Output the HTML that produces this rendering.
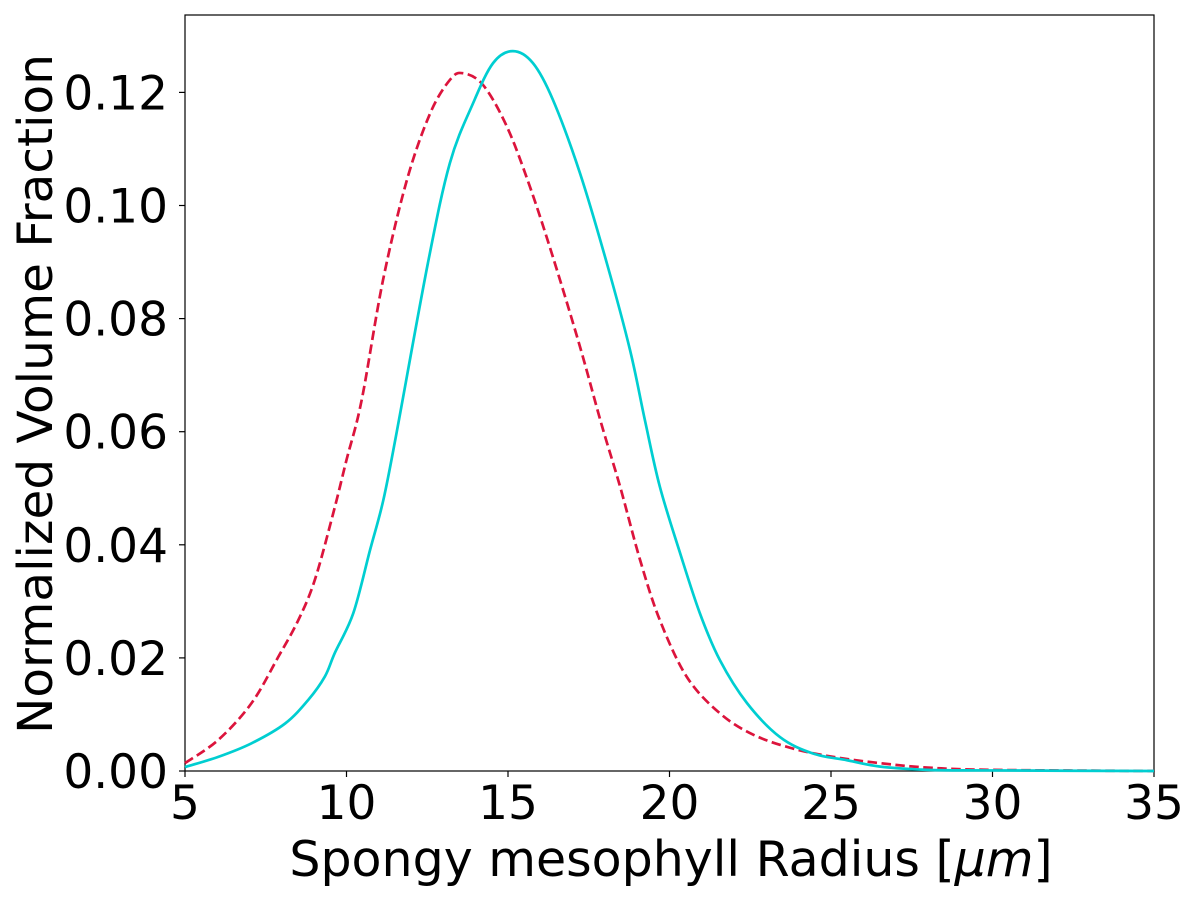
<!DOCTYPE html>
<html><head><meta charset="utf-8"><style>
body{margin:0;background:#fff}
svg text{font-family:"DejaVu Sans","Liberation Sans",sans-serif;fill:#000}
</style></head><body>
<svg id="chart" width="1200" height="900">
<rect x="185" y="15" width="969" height="756" fill="none" stroke="#000" stroke-width="1.2"/>
<g id="ticks"></g>
<g id="series"></g>
<text x="671" y="876" font-size="49" text-anchor="middle">Spongy mesophyll Radius [<tspan font-style="italic">μm</tspan>]</text>
<text transform="translate(52,394) rotate(-90)" font-size="48.5" text-anchor="middle">Normalized Volume Fraction</text>
</svg>
<script>
const xTicks=[5,10,15,20,25,30,35];
const yTicks=[0,0.02,0.04,0.06,0.08,0.10,0.12];
const yTickLabels=["0.00","0.02","0.04","0.06","0.08","0.10","0.12"];
const cyanX=[5,6.03,7.06,8.1,8.82,9.33,9.64,10.21,10.73,11.14,11.55,12.52,13.2,13.92,14.54,15.15,15.77,16.39,17.23,18.06,18.78,19.24,19.7,20.33,20.94,21.56,22.4,23.42,24.44,25.5,26.5,28,30,35];
const cyanY=[0.0007,0.0025,0.0049,0.0084,0.0126,0.0167,0.0209,0.0279,0.0391,0.0479,0.0598,0.0898,0.1075,0.1181,0.1252,0.1273,0.1252,0.1187,0.1057,0.0898,0.0744,0.062,0.0503,0.0385,0.0279,0.0196,0.012,0.006,0.0031,0.0019,0.0008,0.0002,0.0001,0];
const redX=[5,6.03,7.06,7.89,8.51,9.02,9.59,10.0,10.47,11.13,11.87,12.59,13.2,13.6,14.23,14.97,15.68,16.39,17.23,17.9,18.47,19.09,19.7,20.54,21.56,22.6,23.8,25.06,26.5,28,30,35];
const redY=[0.0014,0.0055,0.012,0.0202,0.0267,0.0338,0.0456,0.055,0.0656,0.0868,0.1045,0.1163,0.1222,0.1234,0.1213,0.1139,0.1033,0.0909,0.075,0.0612,0.0503,0.0373,0.0267,0.0166,0.0102,0.0064,0.004,0.0025,0.0014,0.0006,0.0002,0];
const NS="http://www.w3.org/2000/svg";
const X=v=>185+(v-5)/30*969;
const Y=v=>771-v/0.02*113.1;
const tg=document.getElementById('ticks'),sg=document.getElementById('series');
xTicks.forEach(t=>{
 const l=document.createElementNS(NS,'line');
 
 
 l.setAttribute('x1',X(t));l.setAttribute('x2',X(t));l.setAttribute('y1',771);l.setAttribute('y2',777);l.setAttribute('stroke','#000');l.setAttribute('stroke-width','1.2');tg.appendChild(l);
 const s=document.createElementNS(NS,'text');
 
 
 s.setAttribute('x',X(t));s.setAttribute('y',819);s.setAttribute('font-size','47');s.setAttribute('text-anchor','middle');s.textContent=t;tg.appendChild(s);
});
yTicks.forEach((t,i)=>{
 const l=document.createElementNS(NS,'line');
 
 
 l.setAttribute('x1',179);l.setAttribute('x2',185);l.setAttribute('y1',Y(t));l.setAttribute('y2',Y(t));l.setAttribute('stroke','#000');l.setAttribute('stroke-width','1.2');tg.appendChild(l);
 const s=document.createElementNS(NS,'text');
 
 
 s.setAttribute('x',168);s.setAttribute('y',Y(t)+17);s.setAttribute('font-size','47');s.setAttribute('text-anchor','end');s.textContent=yTickLabels[i];tg.appendChild(s);
});
function line(xs,ys,color,dash,name){
 const P=xs.map((x,i)=>[X(x),Y(ys[i])]);
 let d='M'+P[0][0]+','+P[0][1];
 for(let i=0;i<P.length-1;i++){
  const p0=P[Math.max(i-1,0)],p1=P[i],p2=P[i+1],p3=P[Math.min(i+2,P.length-1)];
  const c1=[p1[0]+(p2[0]-p0[0])/6,p1[1]+(p2[1]-p0[1])/6];
  const c2=[p2[0]-(p3[0]-p1[0])/6,p2[1]-(p3[1]-p1[1])/6];
  d+=' C'+c1[0]+','+c1[1]+' '+c2[0]+','+c2[1]+' '+p2[0]+','+p2[1];
 }
 const p=document.createElementNS(NS,'path');
 
 
 p.setAttribute('d',d);
 p.setAttribute('fill','none');p.setAttribute('stroke',color);p.setAttribute('stroke-width','2.7');p.setAttribute('stroke-linejoin','round');
 if(dash)p.setAttribute('stroke-dasharray',dash);
 sg.appendChild(p);
}
line(redX,redY,'#DC143C','9.5,4.5','red-dashed-series');
line(cyanX,cyanY,'#00CED1',null,'cyan-solid-series');
</script>
</body></html>
